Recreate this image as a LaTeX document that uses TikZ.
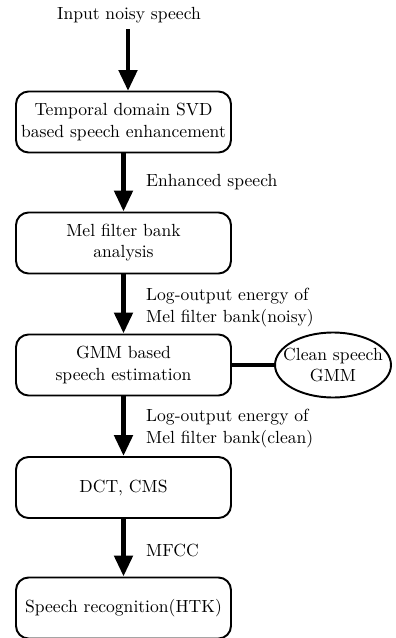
\documentclass[tikz,border=0pt]{standalone}
\usetikzlibrary{arrows.meta,positioning,shapes.geometric}
\begin{document}
\begin{tikzpicture}[x=0.02cm,y=-0.02cm,
  every node/.style={font=\normalsize},
  block/.style={draw, line width=1.1pt, rounded corners=0.25cm, minimum width=4.3cm, minimum height=1.22cm, align=center, inner sep=2pt},
  store/.style={ellipse, draw, line width=1.1pt, minimum width=2.32cm, minimum height=1.3cm, inner xsep=-0.4cm, inner ysep=0pt, align=center},
  flow/.style={line width=2.8pt, -{Triangle[width=0.36cm,length=0.42cm]}},
  lbl/.style={anchor=west, align=left}]
  \useasboundingbox (0,0) rectangle (395,638);
  % Input
  \node (input) at (129,15) {Input noisy speech};
  % Processing chain
  \node[block] (svd) at (123.5,122) {Temporal domain SVD\\based speech enhancement};
  \node[block] (mel) at (123.5,243) {Mel filter bank\\analysis};
  \node[block] (gmm) at (123.5,365) {GMM based\\speech estimation};
  \node[block] (dct) at (123.5,487.5) {DCT, CMS};
  \node[block] (htk) at (123.5,608) {Speech recognition(HTK)};
  % Clean speech model
  \node[store] (clean) at (333,365) {Clean speech\\GMM};
  % Arrows
  \draw[flow] (input.south -| 128,0) -- (128,91);
  \draw[flow] (svd) -- (mel);
  \draw[flow] (mel) -- (gmm);
  \draw[flow] (gmm) -- (dct);
  \draw[flow] (dct) -- (htk);
  \draw[line width=2.2pt] (gmm.east) -- (clean.west);
  % Labels
  \node[lbl] (enh) at (140,182) {Enhanced speech};
  \node[lbl] (noisy) at (140,307.5) {Log-output energy of\\Mel filter bank(noisy)};
  \node[lbl] (cleanlbl) at (140,428.5) {Log-output energy of\\Mel filter bank(clean)};
  \node[lbl] (mfcc) at (140,550) {MFCC};
\end{tikzpicture}
\end{document}
